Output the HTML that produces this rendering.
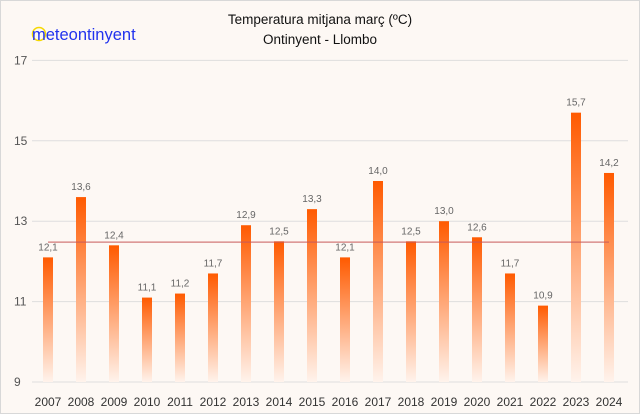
<!DOCTYPE html>
<html><head><meta charset="utf-8"><style>
html,body{margin:0;padding:0;background:#fdf8f4;}
svg{display:block;font-family:"Liberation Sans","DejaVu Sans",sans-serif;}
</style></head><body>
<svg id="chart" width="640" height="414" viewBox="0 0 640 414">
<defs><linearGradient id="g" x1="0" y1="0" x2="0" y2="1"><stop offset="0" stop-color="#ff5a00"/><stop offset="1" stop-color="#fff3ec"/></linearGradient></defs>
<rect x="0.5" y="0.5" width="639" height="413" fill="#fdf8f4" stroke="#d8d8d8"/>
<text x="320" y="24" text-anchor="middle" font-size="13.5" fill="#111">Temperatura mitjana març (ºC)</text>
<text x="320" y="44" text-anchor="middle" font-size="13.5" fill="#111">Ontinyent - Llombo</text>
<circle cx="39" cy="34" r="6.5" fill="none" stroke="#f5d800" stroke-width="1.5"/>
<text x="32" y="40" font-size="16.5" fill="#2233ee">meteontinyent</text>
<g id="grid"></g><g id="bars"></g><g id="labels"></g>
</svg>
<script>
const years=["2007","2008","2009","2010","2011","2012","2013","2014","2015","2016","2017","2018","2019","2020","2021","2022","2023","2024"];
const temps=[12.1,13.6,12.4,11.1,11.2,11.7,12.9,12.5,13.3,12.1,14.0,12.5,13.0,12.6,11.7,10.9,15.7,14.2];
const yTicks=[9,11,13,15,17];
const meanValue=12.48;
const ns="http://www.w3.org/2000/svg";
const y=v=>382-(v-9)*40.2;
const x=i=>48+i*33;
function mk(t,a,p){const e=document.createElementNS(ns,t);for(const k in a)e.setAttribute(k,a[k]);p.appendChild(e);return e;}
const grid=document.getElementById('grid'),bars=document.getElementById('bars'),labels=document.getElementById('labels');
yTicks.forEach(v=>{
 const l=mk('line',{x1:32,x2:628,y1:y(v),y2:y(v),stroke:'#dedede','stroke-width':1},grid);
 
 
 const t=mk('text',{x:14,y:y(v)+4,'font-size':12,fill:'#555'},grid);t.textContent=v;
 
 
});
years.forEach((yr,i)=>{
 const v=temps[i];
 const r=mk('rect',{x:x(i)-5,y:y(v),width:10,height:y(9)-y(v),fill:'url(#g)'},bars);
 
 
 const t=mk('text',{x:x(i),y:y(v)-7,'text-anchor':'middle','font-size':10,fill:'#666'},labels);
 t.textContent=v.toFixed(1).replace('.',',');
 
 
 const xl=mk('text',{x:x(i),y:406,'text-anchor':'middle','font-size':12,fill:'#333'},labels);
 xl.textContent=yr;
 
 
});
const m=mk('line',{x1:x(0),x2:x(years.length-1),y1:y(meanValue),y2:y(meanValue),stroke:'#c85a5a','stroke-width':1.2,opacity:0.8},labels);


</script>
</body></html>
